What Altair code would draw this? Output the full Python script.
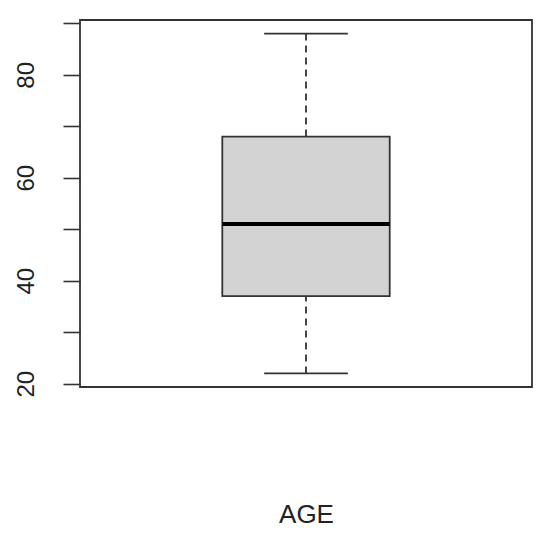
import altair as alt
import pandas as pd

# Data
variables = ["AGE"]
whisker_low = [22]
q1 = [37]
median = [51]
q3 = [68]
whisker_high = [88]

BOX_HALF = 0.2
CAP_HALF = 0.1

df = pd.DataFrame({
    "var": variables,
    "lo": whisker_low,
    "q1": q1,
    "med": median,
    "q3": q3,
    "hi": whisker_high,
})
df["center"] = 1.0
df["bl"] = df["center"] - BOX_HALF
df["br"] = df["center"] + BOX_HALF
df["cl"] = df["center"] - CAP_HALF
df["cr"] = df["center"] + CAP_HALF

xscale = alt.Scale(domain=[0.46, 1.54], nice=False, zero=False)
yscale = alt.Scale(domain=[19.36, 90.64], nice=False, zero=False)

xaxis = alt.Axis(labels=False, ticks=False, domain=False, grid=False,
                 title="AGE", titleFontSize=26, titleFont="Liberation Sans",
                 titleFontWeight="normal", titleColor="#222", titlePadding=114)
yaxis = alt.Axis(values=[20, 30, 40, 50, 60, 70, 80, 90],
                 labelExpr="datum.value % 20 == 0 ? datum.label : ''",
                 labelAngle=270, labelAlign="center", labelBaseline="alphabetic",
                 labelFontSize=24, labelFont="Liberation Sans", labelColor="#222",
                 labelPadding=30, tickSize=17, tickColor="#333", tickWidth=1.6,
                 domain=False, grid=False, title=None)

base = alt.Chart(df)

wh_low = base.mark_rule(color="#333", strokeWidth=1.8, strokeDash=[7, 5]).encode(
    x=alt.X("center:Q", scale=xscale, axis=xaxis),
    y=alt.Y("lo:Q", scale=yscale, axis=yaxis),
    y2="q1:Q",
)
wh_high = base.mark_rule(color="#333", strokeWidth=1.8, strokeDash=[7, 5]).encode(
    x=alt.X("center:Q", scale=xscale),
    y=alt.Y("q3:Q", scale=yscale),
    y2="hi:Q",
)
cap_low = base.mark_rule(color="#333", strokeWidth=1.8).encode(
    x=alt.X("cl:Q", scale=xscale), x2="cr:Q",
    y=alt.Y("lo:Q", scale=yscale),
)
cap_high = base.mark_rule(color="#333", strokeWidth=1.8).encode(
    x=alt.X("cl:Q", scale=xscale), x2="cr:Q",
    y=alt.Y("hi:Q", scale=yscale),
)
box = base.mark_rect(fill="#D3D3D3", stroke="#333", strokeWidth=1.8).encode(
    x=alt.X("bl:Q", scale=xscale), x2="br:Q",
    y=alt.Y("q1:Q", scale=yscale), y2="q3:Q",
)
med = base.mark_rule(color="#000", strokeWidth=4).encode(
    x=alt.X("bl:Q", scale=xscale), x2="br:Q",
    y=alt.Y("med:Q", scale=yscale),
)

chart = alt.layer(wh_low, wh_high, cap_low, cap_high, box, med).properties(
    width=452, height=367,
    autosize=alt.AutoSizeParams(type="none"),
    padding={"left": 72, "top": 12, "right": 10, "bottom": 150},
).configure(
    background="white",
    view=alt.ViewConfig(stroke="#333", strokeWidth=1.8),
)

chart.save("out.html", embed_options={"renderer": "svg", "actions": False})
